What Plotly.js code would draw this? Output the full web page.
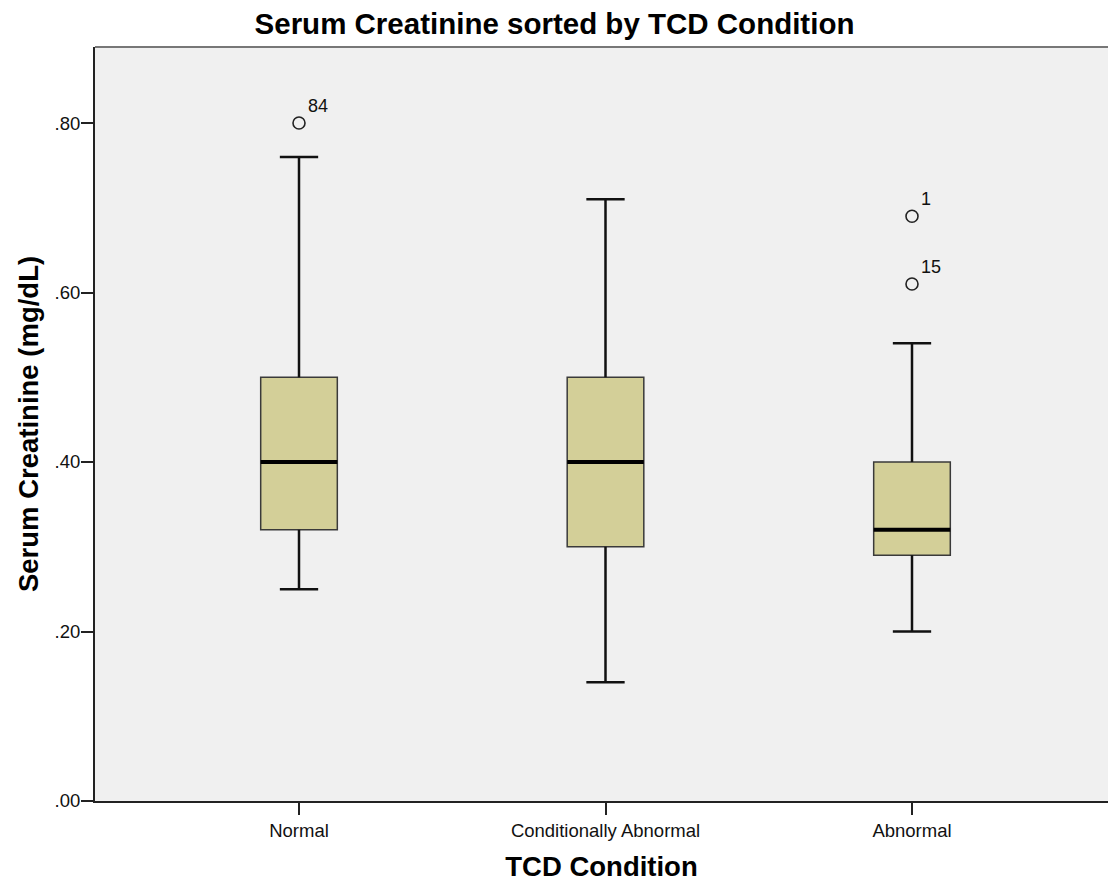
<!DOCTYPE html>
<html>
<head>
<meta charset="utf-8">
<script src="https://cdn.plot.ly/plotly-3.0.1.min.js"></script>
<style>html,body{margin:0;padding:0;background:#fff;}#chart{width:1109px;height:882px;}</style>
</head>
<body>
<div id="chart"></div>
<script>
// Data
const categories = ["Normal", "Conditionally Abnormal", "Abnormal"];
const q1Values = [0.32, 0.30, 0.29];
const medianValues = [0.40, 0.40, 0.32];
const q3Values = [0.50, 0.50, 0.40];
const lowerWhisker = [0.25, 0.14, 0.20];
const upperWhisker = [0.76, 0.71, 0.54];
const outlierCategory = [0, 2, 2];
const outlierValues = [0.80, 0.69, 0.61];
const outlierLabels = ["84", "1", "15"];
const yTickValues = [0, 0.2, 0.4, 0.6, 0.8];
const yTickLabels = [".00", ".20", ".40", ".60", ".80"];

const positions = categories.map((c, i) => i);
const boxWidth = 0.25;
const capHalf = boxWidth / 4;
const FONT = "Liberation Sans, Arial, sans-serif";

// Whiskers and caps
const wx = [], wy = [];
positions.forEach((p, i) => {
  wx.push(p, p, null, p, p, null, p - capHalf, p + capHalf, null, p - capHalf, p + capHalf, null);
  wy.push(lowerWhisker[i], q1Values[i], null, q3Values[i], upperWhisker[i], null,
          lowerWhisker[i], lowerWhisker[i], null, upperWhisker[i], upperWhisker[i], null);
});

// Median lines
const mx = [], my = [];
positions.forEach((p, i) => {
  mx.push(p - boxWidth / 2, p + boxWidth / 2, null);
  my.push(medianValues[i], medianValues[i], null);
});

const traces = [
  {
    type: "box",
    x: positions,
    q1: q1Values,
    median: medianValues,
    q3: q3Values,
    lowerfence: q1Values,
    upperfence: q3Values,
    width: boxWidth,
    whiskerwidth: 0,
    fillcolor: "#d3cf98",
    line: {color: "#3a3a3a", width: 1.5},
    hoverinfo: "skip",
    showlegend: false
  },
  {
    type: "scatter", mode: "lines", x: wx, y: wy,
    line: {color: "#111", width: 2.5}, hoverinfo: "skip", showlegend: false
  },
  {
    type: "scatter", mode: "lines", x: mx, y: my,
    line: {color: "#000", width: 4}, hoverinfo: "skip", showlegend: false
  },
  {
    type: "scatter", mode: "markers",
    x: outlierCategory, y: outlierValues,
    marker: {symbol: "circle-open", size: 12, color: "#222", line: {width: 1.6, color: "#222"}},
    hoverinfo: "skip", showlegend: false
  }
];

const annotations = outlierValues.map((v, k) => ({
  x: outlierCategory[k], y: v, xref: "x", yref: "y",
  text: outlierLabels[k], showarrow: false,
  xanchor: "left", yanchor: "bottom", xshift: 7, yshift: 5,
  font: {family: FONT, size: 18, color: "#111"}
}));

const layout = {
  width: 1109, height: 882,
  paper_bgcolor: "#ffffff",
  plot_bgcolor: "#f0f0f0",
  margin: {l: 95, r: 1, t: 47, b: 81},
  title: {
    text: "<b>Serum Creatinine sorted by TCD Condition</b>",
    font: {family: FONT, size: 29.5, color: "#000"},
    x: 0.5, xanchor: "center", y: 0.973, yanchor: "middle", yref: "container"
  },
  xaxis: {
    range: [-0.6656, 2.6395],
    tickvals: positions, ticktext: categories,
    ticks: "outside", ticklen: 12, tickwidth: 2, tickcolor: "#222",
    showgrid: false, zeroline: false,
    showline: true, linecolor: "#222", linewidth: 2,
    tickfont: {family: FONT, size: 18.5, color: "#111"},
    title: {text: "<b>TCD Condition</b>", font: {family: FONT, size: 27.5, color: "#000"}, standoff: 21},
    automargin: false
  },
  yaxis: {
    range: [0, 0.8897],
    tickvals: yTickValues, ticktext: yTickLabels,
    ticks: "outside", ticklen: 12, tickwidth: 2, tickcolor: "#222",
    ticklabelstandoff: -3,
    showgrid: false, zeroline: false,
    showline: true, linecolor: "#222", linewidth: 2,
    tickfont: {family: FONT, size: 18.5, color: "#111"},
    title: {text: "<b>Serum Creatinine (mg/dL)</b>", font: {family: FONT, size: 27.5, color: "#000"}, standoff: 8},
    automargin: false
  },
  shapes: [
    {type: "line", xref: "paper", yref: "paper", x0: 0, x1: 1, y0: 1, y1: 1,
     line: {color: "#777", width: 2}}
  ],
  annotations: annotations
};

Plotly.newPlot("chart", traces, layout, {displayModeBar: false, staticPlot: true});
</script>
</body>
</html>
